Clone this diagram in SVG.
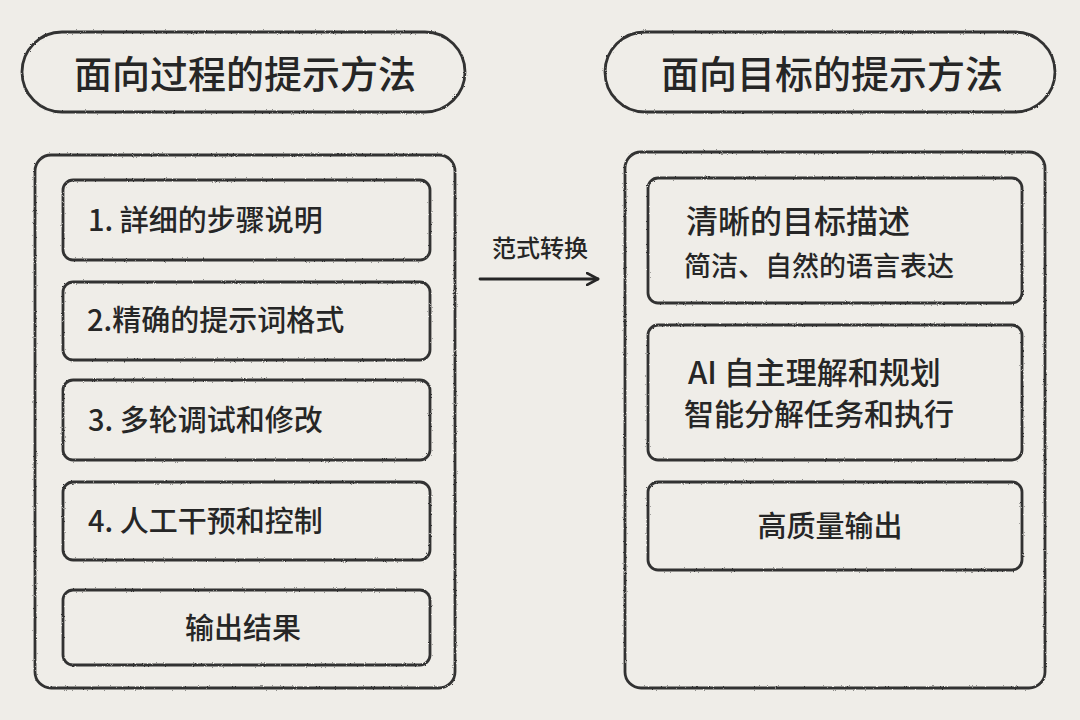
<svg xmlns="http://www.w3.org/2000/svg" width="1080" height="720" viewBox="0 0 1080 720">
<defs>
<style>
.bx{fill:none;stroke:#333;stroke-width:2.8;filter:url(#rough)}
.t{font-family:"Noto Sans CJK SC","Noto Sans",sans-serif;fill:#262626;font-weight:500}
.ttl{font-size:38px}
.lb{font-size:29px}
.sub{font-size:27px}
</style>
<filter id="rough" x="-5%" y="-5%" width="110%" height="110%">
<feTurbulence type="fractalNoise" baseFrequency="0.9" numOctaves="2" seed="3" result="n"/>
<feDisplacementMap in="SourceGraphic" in2="n" scale="2.2"/>
</filter>
<marker id="ah" viewBox="0 0 14 14" refX="12" refY="7" markerWidth="14" markerHeight="14" markerUnits="userSpaceOnUse" orient="auto">
<path d="M1,1 L12,7 L1,13" fill="none" stroke="#262626" stroke-width="2.6" stroke-linecap="round" stroke-linejoin="round"/>
</marker>
</defs>
<rect width="1080" height="720" fill="#efede8"/>

<g id="title-left">
<rect class="bx" x="22" y="32" width="443" height="80" rx="40"/>
<text class="t ttl" x="245" y="88" text-anchor="middle">面向过程的提示方法</text>
</g>
<g id="title-right">
<rect class="bx" x="605" y="32" width="450" height="80" rx="40"/>
<text class="t ttl" x="832" y="88" text-anchor="middle">面向目标的提示方法</text>
</g>

<g id="container-left"><rect class="bx" x="35" y="155" width="420" height="533" rx="16"/></g>
<g id="container-right"><rect class="bx" x="625" y="152" width="420" height="536" rx="16"/></g>

<g id="step1"><rect class="bx" x="63" y="180" width="367" height="80" rx="10"/>
<text class="t lb" x="88" y="231">1. 詳细的步骤说明</text></g>
<g id="step2"><rect class="bx" x="63" y="282" width="367" height="78" rx="10"/>
<text class="t lb" x="87" y="331">2.精确的提示词格式</text></g>
<g id="step3"><rect class="bx" x="63" y="380" width="367" height="80" rx="10"/>
<text class="t lb" x="88" y="431">3. 多轮调试和修改</text></g>
<g id="step4"><rect class="bx" x="63" y="482" width="367" height="78" rx="10"/>
<text class="t lb" x="88" y="532">4. 人工干预和控制</text></g>
<g id="result-left"><rect class="bx" x="63" y="590" width="367" height="75" rx="10"/>
<text class="t lb" x="243" y="639" text-anchor="middle">输出结果</text></g>

<g id="goal1"><rect class="bx" x="648" y="178" width="374" height="125" rx="10"/>
<text class="t" font-size="32" x="686" y="233">清晰的目标描述</text>
<text class="t sub" x="684" y="276">简洁、自然的语言表达</text></g>
<g id="goal2"><rect class="bx" x="648" y="325" width="374" height="135" rx="10"/>
<text class="t" font-size="31" x="688" y="384">AI 自主理解和规划</text>
<text class="t" font-size="30" x="684" y="425">智能分解任务和执行</text></g>
<g id="goal3"><rect class="bx" x="648" y="482" width="374" height="88" rx="10"/>
<text class="t lb" x="830" y="537" text-anchor="middle">高质量输出</text></g>

<g id="connectors">
<path d="M480,279 L598,279" fill="none" stroke="#262626" stroke-width="2.8" stroke-linecap="round" marker-end="url(#ah)"/>
<text class="t" font-size="24" x="540" y="257" text-anchor="middle">范式转换</text>
</g>
</svg>
